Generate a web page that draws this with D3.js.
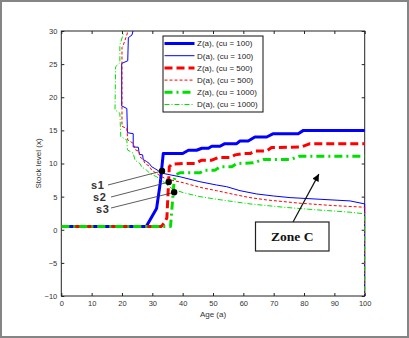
<!DOCTYPE html>
<html><head><meta charset="utf-8">
<script src="https://cdn.jsdelivr.net/npm/d3@7"></script>
<style>body{margin:0;background:#fff}svg{display:block}text{font-family:"Liberation Sans",Arial,sans-serif}</style>
</head><body>
<svg id="c" width="409" height="338"></svg>
<script>
const xTicks=[0,10,20,30,40,50,60,70,80,90,100];
const yTicks=[-10,-5,0,5,10,15,20,25,30];
const z100=[[0,0.5],[28,0.5],[31.4,3.2],[32.6,7],[33.6,11.5],[40,11.5],[41.9,12],[44.6,12],[46.3,12.3],[48.5,12.3],[49.6,12.6],[52.3,12.6],[53.9,13],[57.8,13],[58.9,13.4],[61.6,13.4],[63.8,14],[67.7,14],[69.9,14.5],[78.1,14.5],[79.8,15],[100,15]];
const d100=[[23.9,30.5],[23.3,29.4],[22.1,29],[21.9,25.5],[19.9,25.1],[19.9,18.7],[21.6,18.3],[21.8,14.65],[23.7,14.5],[23.7,12.5],[25.4,12.45],[25.7,11.4],[26.8,11.3],[27.0,10.6],[28.1,10.3],[29.0,10],[29.8,9.5],[30.6,9.3],[32,8.9],[33.6,8.5],[39.1,8.0],[45.7,7.25],[51.2,6.75],[54.5,6.5],[58.9,5.9],[64.4,5.4],[69.9,5.1],[75.4,4.85],[85.3,4.6],[95.2,4.35],[100,3.9],[100,-10]];
const z500=[[0,0.5],[33,0.5],[34.2,1.2],[34.8,1.8],[35.6,9.5],[36.4,9.9],[40.2,10],[44.1,10],[46.3,10.5],[49.6,10.5],[51.7,10.9],[55.6,10.9],[57.3,11.3],[60,11.5],[62.2,11.5],[63.8,11.9],[67.7,11.9],[69.3,12.4],[79.2,12.5],[82,13],[100,13]];
const d500=[[22.2,30.5],[21.6,29.4],[20.3,27.7],[20.0,27.5],[20.0,15.6],[21.6,15.3],[21.9,13.55],[23.7,13.05],[24.3,12.1],[25.7,11.8],[25.9,11.0],[27.0,10.6],[27.6,10.0],[29.0,9.6],[29.8,9.0],[31.4,8.5],[33.1,8.0],[34.7,7.65],[40.2,7.1],[45.7,6.4],[51.2,5.9],[56.7,5.35],[62.2,4.85],[67.7,4.5],[73.2,4.25],[78.7,4.0],[89.6,3.65],[100,3.4],[100,-10]];
const z1000=[[0,0.5],[36,0.5],[36.6,4],[37.2,7.5],[37.8,8.3],[39.1,8.6],[45.7,8.6],[47.3,9],[50.7,9],[52.3,9.5],[56.2,9.5],[57.8,10],[63.3,10.1],[66.6,10.6],[75.4,10.6],[78.6,11.1],[100,11.1]];
const d1000=[[21.6,30.5],[20.4,29.5],[19.3,27.9],[19.3,25.2],[17.9,24.6],[17.7,18.1],[19.3,17.6],[19.6,14.05],[21.6,13.55],[21.8,12.05],[23.7,11.55],[24.3,10.5],[25.9,10.0],[26.5,9.5],[28.1,9.0],[29.2,8.5],[31.4,8.0],[33.1,7.5],[34.7,6.75],[36.9,6.1],[40.2,5.6],[45.7,5.0],[51.2,4.6],[56.7,4.25],[62.2,3.9],[67.7,3.65],[73.2,3.4],[84.2,3.0],[95.2,2.65],[100,2.4],[100,-10]];
const legendLabels=["Z(a), (cu = 100)","D(a), (cu = 100)","Z(a), (cu = 500)","D(a), (cu = 500)","Z(a), (cu = 1000)","D(a), (cu = 1000)"];
const sLabels=["s1","s2","s3"];
const sPoints=[[33.2,8.87],[35.4,7.2],[37.2,5.65]];
const zoneLabel="Zone C";
const zoneArrowTip=[84.9,8.4];

const svg=d3.select("#c");
svg.append("rect").attr("x",1).attr("y",1).attr("width",407).attr("height",336).attr("fill","#fff").attr("stroke","#858585").attr("stroke-width",2);
const L=61.3,R=364.7,T=31,B=296;
const x=d3.scaleLinear().domain([0,100]).range([L,R]);
const y=d3.scaleLinear().domain([-10,30]).range([B,T]);

svg.append("defs").append("clipPath").attr("id","clip").append("rect").attr("x",L).attr("y",T).attr("width",R-L+1).attr("height",B-T);

const axC="#222";
const gx=svg.append("g").attr("transform",`translate(0,${B})`).call(d3.axisBottom(x).tickValues(xTicks).tickSize(-3).tickPadding(5));
const gx2=svg.append("g").attr("transform",`translate(0,${T})`).call(d3.axisTop(x).tickValues(xTicks).tickSize(-3).tickFormat(""));
const gy=svg.append("g").attr("transform",`translate(${L},0)`).call(d3.axisLeft(y).tickValues(yTicks).tickSize(-3).tickPadding(4));
const gy2=svg.append("g").attr("transform",`translate(${R},0)`).call(d3.axisRight(y).tickValues(yTicks).tickSize(-3).tickFormat(""));
[gx,gx2,gy,gy2].forEach(g=>{g.select(".domain").remove();g.selectAll("line").attr("stroke",axC);g.selectAll("text").attr("font-size",7.5).attr("fill","#333").style("font-family","Liberation Sans, Arial");});
svg.append("rect").attr("x",L).attr("y",T).attr("width",R-L).attr("height",B-T).attr("fill","none").attr("stroke",axC).attr("stroke-width",1);

svg.append("text").attr("x",(L+R)/2).attr("y",317).attr("text-anchor","middle").attr("font-size",8).attr("fill","#333").text("Age (a)");
svg.append("text").attr("transform",`translate(41,${(T+B)/2}) rotate(-90)`).attr("text-anchor","middle").attr("font-size",8).attr("fill","#333").text("Stock level (x)");

const series=[
 {d:z100,c:"#0000ff",w:3,da:null},
 {d:d100,c:"#0000ff",w:1,da:null},
 {d:z500,c:"#ff0000",w:3,da:"8,4"},
 {d:d500,c:"#ff0000",w:1,da:"3,2"},
 {d:z1000,c:"#00e000",w:3,da:"8,4,2,4"},
 {d:d1000,c:"#00e000",w:1,da:"5,2,1,2"}
];
const line=d3.line().x(d=>x(d[0])).y(d=>y(d[1]));
const gl=svg.append("g").attr("clip-path","url(#clip)");
series.forEach(s=>{gl.append("path").attr("d",line(s.d)).attr("fill","none").attr("stroke",s.c).attr("stroke-width",s.w).attr("stroke-dasharray",s.da).attr("stroke-linejoin","round");});

// legend
const lg=svg.append("g");
lg.append("rect").attr("x",163).attr("y",36).attr("width",100).attr("height",76).attr("fill","#fff").attr("stroke","#111").attr("stroke-width",1);
series.forEach((s,i)=>{
  const yy=43.5+i*12.2;
  lg.append("line").attr("x1",164.5).attr("x2",194.5).attr("y1",yy).attr("y2",yy).attr("stroke",s.c).attr("stroke-width",s.w).attr("stroke-dasharray",s.da);
  lg.append("text").attr("x",197).attr("y",yy+2.8).attr("font-size",8).attr("fill","#222").text(legendLabels[i]);
});

// s labels
const sText=[[91,188.8],[93,201.1],[96,213.4]];
const sLine=[[108,185],[111,197],[111,208]];
sPoints.forEach((p,i)=>{
  svg.append("line").attr("x1",sLine[i][0]).attr("y1",sLine[i][1]).attr("x2",x(p[0])).attr("y2",y(p[1])).attr("stroke","#333").attr("stroke-width",0.8);
  svg.append("circle").attr("cx",x(p[0])).attr("cy",y(p[1])).attr("r",3.2).attr("fill","#000");
  svg.append("text").attr("x",sText[i][0]).attr("y",sText[i][1]).attr("font-size",11).attr("font-weight","bold").attr("letter-spacing",0.6).attr("fill","#333").text(sLabels[i]);
});

// Zone C
svg.append("defs").append("marker").attr("id","ah").attr("viewBox","0 0 10 10").attr("refX",10).attr("refY",5).attr("markerWidth",8).attr("markerHeight",7).attr("markerUnits","userSpaceOnUse").attr("orient","auto")
  .append("path").attr("d","M0,0L10,5L0,10z").attr("fill","#000");
svg.append("line").attr("x1",293).attr("y1",222).attr("x2",x(zoneArrowTip[0])).attr("y2",y(zoneArrowTip[1])).attr("stroke","#111").attr("stroke-width",1.2).attr("marker-end","url(#ah)");
svg.append("rect").attr("x",255.5).attr("y",222).attr("width",73.5).attr("height",29).attr("fill","#fff").attr("stroke","#222").attr("stroke-width",1.2);
svg.append("text").attr("x",292.3).attr("y",241).attr("text-anchor","middle").attr("font-size",13.5).attr("font-weight","bold").style("font-family","Liberation Serif, Times New Roman, serif").attr("fill","#111").text(zoneLabel);
</script>
</body></html>
